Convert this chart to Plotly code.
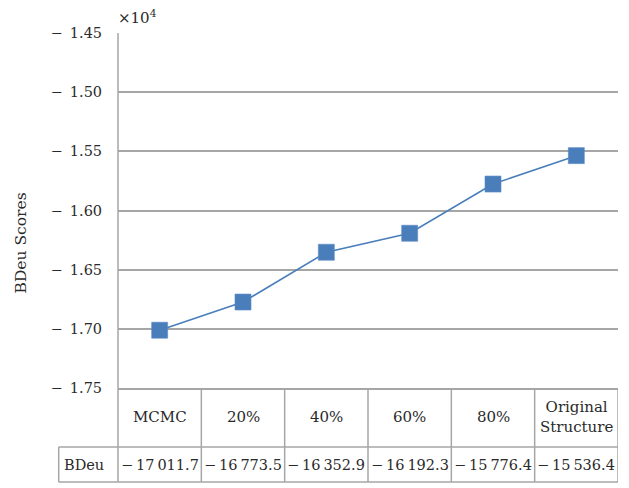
import plotly.graph_objects as go

# Scores per structure-learning setting
categories = ["MCMC", "20%", "40%", "60%", "80%", "Original Structure"]
header_labels = ["MCMC", "20%", "40%", "60%", "80%", "Original<br>Structure"]
bdeu_scores = [-17011.7, -16773.5, -16352.9, -16192.3, -15776.4, -15536.4]
y_tick_values = [-17500, -17000, -16500, -16000, -15500, -15000, -14500]
y_tick_labels = ["\u2212\u20021.75", "\u2212\u20021.70", "\u2212\u20021.65", "\u2212\u20021.60",
                 "\u2212\u20021.55", "\u2212\u20021.50", "\u2212\u20021.45"]
row_label = "BDeu"

FONT = "'DejaVu Serif', 'Liberation Serif', serif"
GRID = "#a6a6a6"
BLUE = "#4a7ebb"
TXT = "#2a2a2a"


def fmt(v):
    s = f"{abs(v):,.1f}".replace(",", "\u2009")
    return ("\u2212\u2009" if v < 0 else "") + s


n = len(categories)
xs = list(range(n))

fig = go.Figure()
fig.add_trace(go.Scatter(
    x=xs, y=bdeu_scores, mode="lines+markers",
    line=dict(color=BLUE, width=1.6),
    marker=dict(symbol="square", size=16, color=BLUE,
                line=dict(color="#5a8cc8", width=0.6)),
    showlegend=False, hoverinfo="skip", cliponaxis=False,
))

# Table geometry in paper units (plot area spans y 0..1)
header_bottom = -0.166
table_bottom = -0.265
label_left = -0.1186

shapes = []
# Left axis line running down through the table
shapes.append(dict(type="line", xref="paper", yref="paper", x0=0, x1=0, y0=1, y1=table_bottom,
                   line=dict(color=GRID, width=1.5)))
# Column separators in the table
for k in range(1, n + 1):
    shapes.append(dict(type="line", xref="x", yref="paper", x0=k - 0.5, x1=k - 0.5,
                       y0=0, y1=table_bottom, line=dict(color=GRID, width=1.5)))
# Row rules
for yy in (header_bottom, table_bottom):
    shapes.append(dict(type="line", xref="paper", yref="paper", x0=label_left, x1=1,
                       y0=yy, y1=yy, line=dict(color=GRID, width=1.5)))
shapes.append(dict(type="line", xref="paper", yref="paper", x0=label_left, x1=label_left,
                   y0=header_bottom, y1=table_bottom, line=dict(color=GRID, width=1.5)))

annotations = []
for i, lab in enumerate(header_labels):
    annotations.append(dict(x=i, y=-0.083, xref="x", yref="paper", text=lab, showarrow=False,
                            font=dict(family=FONT, size=15, color=TXT),
                            xanchor="center", yanchor="middle"))
for i, v in enumerate(bdeu_scores):
    annotations.append(dict(x=i, y=(header_bottom + table_bottom) / 2, xref="x", yref="paper",
                            text=fmt(v), showarrow=False,
                            font=dict(family=FONT, size=14.5, color=TXT),
                            xanchor="center", yanchor="middle"))
annotations.append(dict(x=label_left + 0.006, y=(header_bottom + table_bottom) / 2, xref="paper",
                        yref="paper", text=row_label, showarrow=False,
                        font=dict(family=FONT, size=14.5, color=TXT),
                        xanchor="left", yanchor="middle"))
annotations.append(dict(x=-0.1934, y=0.408, xref="paper", yref="paper", text="BDeu Scores",
                        textangle=-90, showarrow=False,
                        font=dict(family=FONT, size=15.5, color=TXT),
                        xanchor="center", yanchor="middle"))
annotations.append(dict(x=-0.004, y=1.045, xref="paper", yref="paper", text="\u00d710<sup>4</sup>",
                        showarrow=False, font=dict(family=FONT, size=15, color=TXT),
                        xanchor="left", yanchor="middle"))

fig.update_layout(
    width=629, height=488,
    margin=dict(l=118, r=11, t=33, b=100),
    paper_bgcolor="white", plot_bgcolor="white",
    font=dict(family=FONT, size=14, color=TXT),
    xaxis=dict(range=[-0.5, n - 0.5], showticklabels=False, showgrid=False, zeroline=False,
               showline=True, linecolor=GRID, linewidth=1.5, ticks=""),
    yaxis=dict(range=[-17500, -14500], tickvals=y_tick_values, ticktext=y_tick_labels,
               showgrid=True, gridcolor=GRID, gridwidth=1.5, zeroline=False,
               ticks="outside", ticklen=12, tickcolor="rgba(0,0,0,0)",
               tickfont=dict(family=FONT, size=14.5, color=TXT)),
    shapes=shapes,
    annotations=annotations,
)

fig.write_html("out.html")
